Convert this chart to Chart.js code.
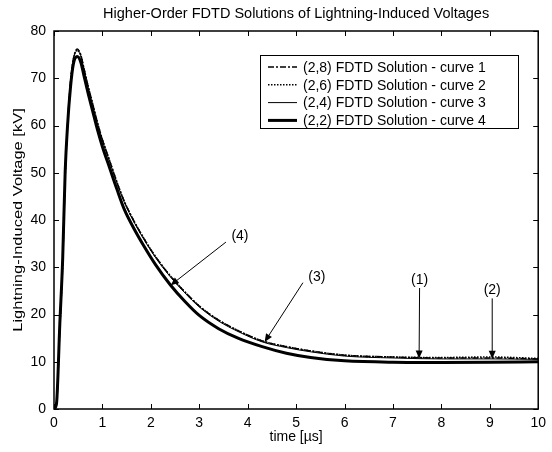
<!DOCTYPE html>
<html>
<head>
<meta charset="utf-8">
<script src="https://cdn.jsdelivr.net/npm/chart.js@4/dist/chart.umd.min.js"></script>
<style>
html,body{margin:0;padding:0;background:#fff;}
#wrap{width:552px;height:452px;position:relative;}
</style>
</head>
<body>
<div id="wrap"><canvas id="c" width="552" height="452"></canvas></div>
<script>
// ---- data ----
const chartTitle = "Higher-Order FDTD Solutions of Lightning-Induced Voltages";
const xTitle = "time [\u00b5s]";
const yTitle = "Lightning-Induced Voltage [kV]";
const seriesLabels = [
  "(2,8) FDTD Solution - curve 1",
  "(2,6) FDTD Solution - curve 2",
  "(2,4) FDTD Solution - curve 3",
  "(2,2) FDTD Solution - curve 4"
];
const timeUs = [0,0.05,0.12,0.18,0.23,0.28,0.34,0.40,0.48,0.55,0.62,0.7,0.8,0.9,1.0,1.15,1.3,1.45,1.65,1.85,2.1,2.4,2.7,3.0,3.4,3.8,4.3,4.8,5.3,6,7,8,9,10];
const curve1 = [0,1,17,31,49,60,69,74,76.2,75,72,68.5,64.5,60.5,57,52.5,48,44,39.8,36.2,32.2,28.2,24.8,21.8,18.8,16.6,14.4,13.2,12.3,11.4,11.0,10.8,10.8,10.6];
const curve2 = [0,1,17,31,49,60,69,74,76.0,75,72,68.5,64.5,60.5,57,52.5,48,44,39.8,36.2,32.2,28.2,24.8,21.8,18.8,16.6,14.4,13.2,12.3,11.4,11.0,10.9,11.0,10.7];
const curve3 = [0,1,17,31,49,60,69,74,75.8,74.8,71.8,68.3,64.3,60.3,56.8,52.3,47.8,43.8,39.6,36.0,32.0,28.0,24.6,21.6,18.6,16.4,14.2,13.0,12.1,11.2,10.8,10.6,10.6,10.5];
const curve4 = [0,1,18,32,50,60,68,73,74.6,73.5,70.5,67,63,59,55.5,51,46.5,42.3,38.2,34.6,30.5,26.3,22.8,19.8,17.0,15.0,13.2,11.8,10.9,10.2,9.9,9.85,9.9,10.0];
const xTicks = [0,1,2,3,4,5,6,7,8,9,10];
const yTicks = [0,10,20,30,40,50,60,70,80];
// annotations: label, label position (t, kV), arrow tip (t, kV)
const annLabels = ["(4)","(3)","(1)","(2)"];
const annLabelT = [3.84,5.43,7.55,9.05];
const annLabelV = [36.6,28.0,27.3,25.1];
const annTipT = [2.41,4.35,7.54,9.05];
const annTipV = [26.2,14.2,10.7,10.65];

const FONT = "'Liberation Sans', Arial, sans-serif";
const styles = [
  {w:1.5, dash:[6,2,2,2]},
  {w:1.6, dash:[1.5,1.5]},
  {w:1, dash:[]},
  {w:3, dash:[]}
];
const series = [curve1, curve2, curve3, curve4];

const datasets = series.map((vals, i) => ({
  label: seriesLabels[i],
  data: timeUs.map((t, k) => ({x: t, y: vals[k]})),
  borderColor: '#000',
  borderWidth: styles[i].w,
  borderDash: styles[i].dash,
  pointRadius: 0,
  fill: false,
  tension: 0.35,
  cubicInterpolationMode: 'monotone'
}));

const framePlugin = {
  id: 'frame',
  afterDraw(chart) {
    const ctx = chart.ctx;
    const a = chart.chartArea;
    const xs = chart.scales.x, ys = chart.scales.y;
    ctx.save();
    // title
    ctx.fillStyle = '#000';
    ctx.font = "14.5px " + FONT;
    ctx.textAlign = 'center';
    ctx.textBaseline = 'middle';
    ctx.fillText(chartTitle, (a.left + a.right) / 2, 14);
    // y axis title (stretched along its length, as in the reference)
    ctx.save();
    ctx.translate(18, (a.top + a.bottom) / 2);
    ctx.rotate(-Math.PI / 2);
    ctx.scale(1.22, 1);
    ctx.font = "13.5px " + FONT;
    ctx.fillText(yTitle, 0, 0);
    ctx.restore();
    // box
    ctx.strokeStyle = '#000';
    ctx.lineWidth = 1.5;
    ctx.strokeRect(a.left, a.top, a.right - a.left, a.bottom - a.top);
    // inward ticks
    ctx.lineWidth = 1;
    const tl = 5;
    xTicks.forEach(v => {
      const px = Math.round(xs.getPixelForValue(v)) + 0.5;
      ctx.beginPath();
      ctx.moveTo(px, a.bottom); ctx.lineTo(px, a.bottom - tl);
      ctx.moveTo(px, a.top); ctx.lineTo(px, a.top + tl);
      ctx.stroke();
    });
    yTicks.forEach(v => {
      const py = Math.round(ys.getPixelForValue(v)) + 0.5;
      ctx.beginPath();
      ctx.moveTo(a.left, py); ctx.lineTo(a.left + tl, py);
      ctx.moveTo(a.right, py); ctx.lineTo(a.right - tl, py);
      ctx.stroke();
    });
    // legend
    const lx = 260, ly = 55, lw = 258, lh = 73;
    ctx.fillStyle = '#fff';
    ctx.fillRect(lx, ly, lw, lh);
    ctx.strokeStyle = '#000';
    ctx.lineWidth = 1;
    ctx.strokeRect(lx + 0.5, ly + 0.5, lw, lh);
    ctx.font = "14px " + FONT;
    ctx.textAlign = 'left';
    ctx.fillStyle = '#000';
    chart.data.datasets.forEach((ds, i) => {
      const yy = ly + 12 + i * 17.8;
      ctx.save();
      ctx.lineWidth = ds.borderWidth;
      ctx.setLineDash(ds.borderDash || []);
      ctx.beginPath();
      ctx.moveTo(268, yy); ctx.lineTo(297, yy);
      ctx.stroke();
      ctx.restore();
      ctx.fillText(ds.label, 303, yy + 1);
    });
    // annotations
    ctx.font = "14px " + FONT;
    ctx.textAlign = 'center';
    ctx.textBaseline = 'middle';
    annLabels.forEach((lab, i) => {
      const lxp = xs.getPixelForValue(annLabelT[i]);
      const lyp = ys.getPixelForValue(annLabelV[i]);
      const tx = xs.getPixelForValue(annTipT[i]);
      const ty = ys.getPixelForValue(annTipV[i]);
      ctx.fillText(lab, lxp, lyp);
      let sx, sy;
      if (Math.abs(lxp - tx) < 3) { sx = lxp; sy = lyp + 8; }
      else { sx = lxp - 14; sy = lyp + 6; }
      ctx.lineWidth = 1;
      ctx.beginPath();
      ctx.moveTo(sx, sy); ctx.lineTo(tx, ty);
      ctx.stroke();
      const ang = Math.atan2(ty - sy, tx - sx);
      const hl = 8, hw = 3.5;
      ctx.beginPath();
      ctx.moveTo(tx, ty);
      ctx.lineTo(tx - hl * Math.cos(ang) + hw * Math.sin(ang), ty - hl * Math.sin(ang) - hw * Math.cos(ang));
      ctx.lineTo(tx - hl * Math.cos(ang) - hw * Math.sin(ang), ty - hl * Math.sin(ang) + hw * Math.cos(ang));
      ctx.closePath();
      ctx.fill();
    });
    ctx.restore();
  }
};

new Chart(document.getElementById('c'), {
  type: 'line',
  data: { datasets },
  options: {
    responsive: false,
    animation: false,
    layout: { padding: { top: 31, right: 9, left: 0, bottom: 0 } },
    plugins: { legend: { display: false }, title: { display: false }, tooltip: { enabled: false } },
    scales: {
      x: {
        type: 'linear', min: 0, max: 10,
        afterFit(s) { s.height = 43; },
        afterBuildTicks(s) { s.ticks = xTicks.map(v => ({value: v})); },
        grid: { display: false, drawTicks: false },
        border: { display: false },
        ticks: { color: '#000', font: { size: 14, family: FONT }, padding: 6, maxRotation: 0 },
        title: { display: true, text: xTitle, color: '#000', font: { size: 14, family: FONT }, padding: { top: 0, bottom: 6 } }
      },
      y: {
        type: 'linear', min: 0, max: 80,
        afterFit(s) { s.width = 54; },
        afterBuildTicks(s) { s.ticks = yTicks.map(v => ({value: v})); },
        grid: { display: false, drawTicks: false },
        border: { display: false },
        ticks: { color: '#000', font: { size: 14, family: FONT }, padding: 8 },
        title: { display: false }
      }
    }
  },
  plugins: [framePlugin]
});
</script>
</body>
</html>
